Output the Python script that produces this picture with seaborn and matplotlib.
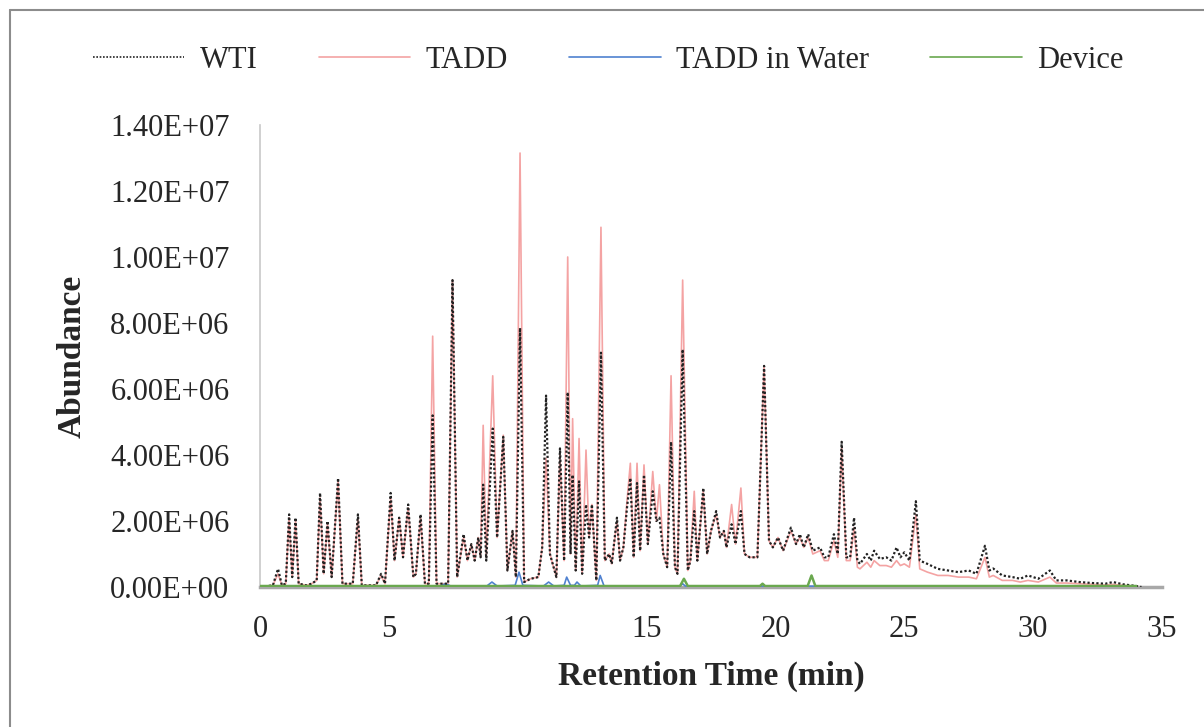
import matplotlib
matplotlib.use("Agg")
import matplotlib.pyplot as plt
import matplotlib.ticker as mticker
from matplotlib.lines import Line2D
import pandas as pd
import seaborn as sns

# retention time (min), shared by the WTI and TADD traces
rt = [
    0.0, 0.5, 0.7, 0.85, 1.0, 1.13, 1.25, 1.38, 1.5, 1.8, 2.0, 2.2, 2.33, 2.47, 2.62, 2.78,
    3.03, 3.2, 3.6, 3.8, 3.95, 4.5, 4.7, 4.85, 5.07, 5.22, 5.4, 5.55, 5.75, 5.95, 6.05, 6.23,
    6.4, 6.55, 6.7, 6.85, 7.3, 7.47, 7.65, 7.9, 8.05, 8.2, 8.33, 8.47, 8.56, 8.66, 8.78, 9.03,
    9.2, 9.44, 9.6, 9.8, 9.93, 10.09, 10.25, 10.5, 10.8, 10.95, 11.1, 11.25, 11.5, 11.64, 11.8,
    11.94, 12.05, 12.13, 12.25, 12.38, 12.5, 12.65, 12.77, 12.88, 13.05, 13.23, 13.38, 13.55,
    13.65, 13.85, 13.97, 14.1, 14.24, 14.37, 14.5, 14.63, 14.75, 14.9, 15.05, 15.24, 15.38,
    15.5, 15.65, 15.8, 15.95, 16.1, 16.2, 16.4, 16.6, 16.7, 16.85, 16.97, 17.2, 17.35, 17.5,
    17.7, 17.85, 18.0, 18.1, 18.3, 18.45, 18.66, 18.8, 19.0, 19.3, 19.56, 19.75, 19.9, 20.1,
    20.3, 20.6, 20.8, 20.95, 21.1, 21.27, 21.45, 21.73, 21.9, 22.05, 22.27, 22.42, 22.57,
    22.75, 22.9, 23.05, 23.18, 23.28, 23.55, 23.7, 23.83, 24.05, 24.3, 24.5, 24.7, 24.85,
    25.0, 25.2, 25.45, 25.6, 25.9, 26.3, 26.7, 27.1, 27.5, 27.8, 28.13, 28.3, 28.45, 28.8,
    29.2, 29.5, 29.8, 30.2, 30.65, 30.9, 31.3, 31.8, 32.3, 32.8, 33.1, 33.5, 34.0, 34.2,
]
# abundance in millions
wti = [
    0.0, 0.05, 0.55, 0.05, 0.1, 2.2, 0.3, 2.1, 0.1, 0.05, 0.1, 0.2, 2.85, 0.4, 2.0, 0.3,
    3.3, 0.1, 0.1, 2.2, 0.05, 0.05, 0.4, 0.1, 2.85, 0.8, 2.1, 0.9, 2.5, 0.3, 0.4, 2.2,
    0.1, 0.1, 5.2, 0.1, 0.1, 9.3, 0.3, 1.6, 0.8, 1.3, 0.8, 1.5, 0.9, 3.1, 0.8, 4.8,
    1.5, 4.55, 0.5, 1.7, 0.3, 7.85, 0.15, 0.25, 0.3, 1.2, 5.8, 1.0, 0.3, 4.2, 0.8,
    5.9, 1.0, 3.4, 0.5, 3.2, 0.4, 2.5, 1.5, 2.5, 0.2, 7.1, 0.8, 1.0,
    0.7, 2.1, 0.8, 1.2, 2.4, 3.3, 0.9, 3.15, 1.1, 3.4, 1.3, 2.9, 2.0,
    2.1, 1.0, 0.6, 4.4, 0.6, 0.4, 7.2, 0.5, 0.8, 2.3, 0.8, 3.0, 1.0, 1.7,
    2.3, 1.5, 1.7, 1.2, 1.9, 1.3, 2.3, 1.0, 0.9, 0.9, 6.7, 1.4, 1.2, 1.5,
    1.1, 1.8, 1.3, 1.6, 1.2, 1.6, 1.1, 1.2, 0.9, 0.9, 1.6, 1.0, 4.4,
    0.9, 0.9, 2.1, 0.8, 0.7, 1.0, 0.8, 1.1, 0.85, 0.9, 0.8, 1.2, 0.9,
    1.05, 0.8, 2.6, 0.8, 0.7, 0.55, 0.5, 0.45, 0.5, 0.4, 1.25, 0.5, 0.56, 0.35,
    0.3, 0.25, 0.35, 0.25, 0.5, 0.2, 0.2, 0.15, 0.12, 0.1, 0.15, 0.08, 0.03, 0.0,
]
tadd = [
    0.0, 0.05, 0.4, 0.05, 0.1, 2.1, 0.3, 2.0, 0.1, 0.05, 0.1, 0.2, 2.7, 0.4, 1.9, 0.3,
    3.2, 0.1, 0.1, 2.1, 0.05, 0.05, 0.35, 0.1, 2.7, 0.8, 2.1, 0.9, 2.4, 0.3, 0.4, 2.1,
    0.1, 0.1, 7.6, 0.1, 0.1, 9.3, 0.3, 1.5, 0.8, 1.3, 0.8, 1.5, 0.9, 4.9, 0.9, 6.4,
    1.5, 4.6, 0.5, 1.7, 0.3, 13.15, 0.15, 0.25, 0.3, 1.2, 3.9, 1.0, 0.3, 4.0, 0.8,
    10.0, 1.0, 5.1, 0.5, 4.5, 0.4, 4.15, 1.5, 2.5, 0.2, 10.9, 0.8, 1.0,
    0.7, 2.0, 0.8, 1.2, 2.6, 3.75, 0.9, 3.75, 1.1, 3.7, 1.3, 3.5, 2.0,
    3.1, 1.0, 0.6, 6.4, 0.6, 0.4, 9.3, 0.5, 0.8, 2.9, 0.8, 2.9, 1.0, 1.7,
    2.2, 1.5, 1.7, 1.2, 2.5, 1.3, 3.0, 1.0, 0.9, 0.9, 6.7, 1.4, 1.2, 1.5,
    1.1, 1.7, 1.3, 1.5, 1.2, 1.5, 1.0, 1.1, 0.8, 0.8, 1.4, 0.9, 4.2,
    0.8, 0.8, 1.8, 0.6, 0.55, 0.75, 0.6, 0.8, 0.65, 0.65, 0.6, 0.8, 0.65,
    0.7, 0.6, 2.2, 0.55, 0.45, 0.35, 0.35, 0.3, 0.3, 0.25, 0.9, 0.3, 0.35, 0.2,
    0.2, 0.15, 0.2, 0.15, 0.3, 0.12, 0.12, 0.1, 0.08, 0.06, 0.08, 0.05, 0.02, 0.0,
]

rt_water = [0.0, 7.0, 7.2, 7.4, 8.8, 9.0, 9.2, 9.9, 10.05, 10.2, 11.0, 11.2, 11.4, 11.8,
            11.9, 12.05, 12.2, 12.3, 12.45, 13.1, 13.2, 13.35, 16.3, 16.4, 16.5, 34.0]
water = [0.02, 0.03, 0.1, 0.03, 0.03, 0.15, 0.03, 0.05, 0.45, 0.05, 0.03, 0.15, 0.03, 0.05,
         0.3, 0.05, 0.05, 0.15, 0.03, 0.05, 0.35, 0.03, 0.03, 0.1, 0.03, 0.02]

rt_device = [0.0, 16.3, 16.45, 16.6, 19.4, 19.5, 19.6, 21.25, 21.4, 21.55, 34.0]
device = [0.03, 0.03, 0.25, 0.03, 0.03, 0.1, 0.03, 0.03, 0.35, 0.03, 0.03]

sns.set_theme(style="white")
plt.rcParams["font.family"] = ["Liberation Serif", "DejaVu Serif"]

main = pd.DataFrame({"rt": rt, "WTI": [v * 1e6 for v in wti], "TADD": [v * 1e6 for v in tadd]})
water_df = pd.DataFrame({"rt": rt_water, "ab": [v * 1e6 for v in water]})
device_df = pd.DataFrame({"rt": rt_device, "ab": [v * 1e6 for v in device]})

fig = plt.figure(figsize=(12.04, 7.27), dpi=100)
ax = fig.add_axes([260 / 1204, 1 - 587 / 727, 902 / 1204, 462 / 727])

sns.lineplot(data=main, x="rt", y="TADD", ax=ax, color="#f4a3a3", lw=1.2,
             estimator=None, sort=False, zorder=2)
sns.lineplot(data=water_df, x="rt", y="ab", ax=ax, color="#4f81d0", lw=1.2,
             estimator=None, sort=False, zorder=3)
sns.lineplot(data=main, x="rt", y="WTI", ax=ax, color="#222222", lw=1.6, ls=(0, (1, 1)),
             estimator=None, sort=False, zorder=4)
sns.lineplot(data=device_df, x="rt", y="ab", ax=ax, color="#6aa84f", lw=1.8,
             estimator=None, sort=False, zorder=5)

ax.set_xlim(0, 35)
ax.set_ylim(0, 1.4e7)
ax.set_xticks(range(0, 36, 5))
ax.set_yticks([i * 2e6 for i in range(8)])
ax.yaxis.set_major_formatter(mticker.FuncFormatter(lambda v, p: "%.2E" % v))
ax.tick_params(axis="both", length=0, labelsize=22, colors="#262626")
ax.tick_params(axis="y", pad=22)
ax.tick_params(axis="x", pad=20)
for s in ["top", "right"]:
    ax.spines[s].set_visible(False)
ax.spines["left"].set_color("#c8c8c8")
ax.spines["left"].set_linewidth(1.2)
ax.spines["bottom"].set_color("#a8a8a8")
ax.spines["bottom"].set_linewidth(2.5)
ax.set_xlabel("Retention Time (min)", fontsize=24, fontweight="bold", color="#262626", labelpad=12)
ax.set_ylabel("Abundance", fontsize=24, fontweight="bold", color="#262626", labelpad=16)

handles = [
    Line2D([], [], color="#222222", lw=1.2, ls=(0, (1, 1))),
    Line2D([], [], color="#f4a3a3", lw=1.2),
    Line2D([], [], color="#4f81d0", lw=1.2),
    Line2D([], [], color="#6aa84f", lw=1.2),
]
fig.legend(handles, ["WTI", "TADD", "TADD in Water", "Device"], ncol=4, frameon=False,
           loc="center", bbox_to_anchor=(0.505, 1 - 60 / 727), fontsize=22,
           handlelength=3.0, handletextpad=0.5, columnspacing=2.0, labelcolor="#262626")

# outer frame of the figure panel
fig.add_artist(Line2D([10 / 1204, 10 / 1204], [0, 1 - 10 / 727], transform=fig.transFigure,
                      color="#8c8c8c", lw=1.5))
fig.add_artist(Line2D([10 / 1204, 1], [1 - 10 / 727, 1 - 10 / 727], transform=fig.transFigure,
                      color="#8c8c8c", lw=1.5))

fig.savefig("out.png", dpi=100)
plt.close(fig)
